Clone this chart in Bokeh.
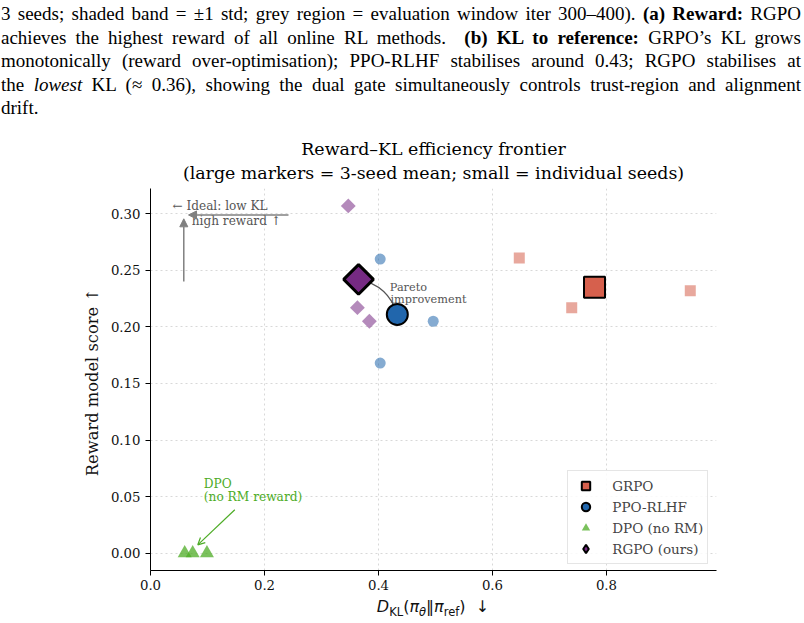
import numpy as np
from bokeh.plotting import figure
from bokeh.models import (Range1d, FixedTicker, PrintfTickFormatter, Label, Arrow,
                          NormalHead, OpenHead, Legend, LegendItem, Div, Title)
from bokeh.layouts import column
from bokeh.embed import file_html
from bokeh.resources import INLINE

# ---------------- data ----------------
methods = ["GRPO", "PPO-RLHF", "DPO (no RM)", "RGPO (ours)"]

grpo_seed_kl = [0.647, 0.739, 0.947]
grpo_seed_reward = [0.261, 0.217, 0.232]
grpo_mean_kl = [0.779]
grpo_mean_reward = [0.235]

ppo_seed_kl = [0.403, 0.496, 0.403]
ppo_seed_reward = [0.260, 0.205, 0.168]
ppo_mean_kl = [0.433]
ppo_mean_reward = [0.211]

dpo_seed_kl = [0.060, 0.074, 0.099]
dpo_seed_reward = [0.0, 0.0, 0.0]

rgpo_seed_kl = [0.347, 0.363, 0.384]
rgpo_seed_reward = [0.307, 0.217, 0.205]
rgpo_mean_kl = [0.365]
rgpo_mean_reward = [0.242]

x_ticks = [0.0, 0.2, 0.4, 0.6, 0.8]
y_ticks = [0.00, 0.05, 0.10, 0.15, 0.20, 0.25, 0.30]

GRPO_C = "#d6604d"
PPO_C = "#2166ac"
DPO_C = "#4dac26"
RGPO_C = "#762a83"
SERIF = "DejaVu Serif"
SANS = "DejaVu Sans"

# ---------------- caption ----------------
just = "white-space:nowrap;text-align:justify;text-align-last:justify;"
caption = (
    "<div style=\"font-family:'Liberation Serif';font-size:19px;line-height:23.5px;"
    "color:#000;width:801px;padding:2px 0 0 1px;\">"
    f"<div style='{just}'>3 seeds; shaded band = ±1 std; grey region = evaluation window iter 300–400). "
    "<b>(a) Reward:</b> RGPO</div>"
    f"<div style='{just}'>achieves the highest reward of all online RL methods.&nbsp; "
    "<b>(b) KL to reference:</b> GRPO’s KL grows</div>"
    f"<div style='{just}'>monotonically (reward over-optimisation); PPO-RLHF stabilises around 0.43; "
    "RGPO stabilises at</div>"
    f"<div style='{just}'>the <i>lowest</i> KL (≈ 0.36), showing the dual gate simultaneously controls "
    "trust-region and alignment</div>"
    "<div style='white-space:nowrap;'>drift.</div></div>"
)
div = Div(text=caption, width=804, height=120, margin=(0, 0, 0, 0))

# ---------------- figure ----------------
x0, x1 = 0.0, 0.993
y0, y1 = -0.0154, 0.3224
W, H = 804, 476
BL, BR, BT, BB = 150, 88, 68, 26
p = figure(width=W, height=H, x_range=Range1d(x0, x1), y_range=Range1d(y0, y1),
           output_backend="svg", toolbar_location=None,
           min_border_left=BL, min_border_right=BR, min_border_top=BT, min_border_bottom=BB)
p.outline_line_color = None
p.background_fill_color = "white"

# two-line title (two stacked Title objects, each centred on the axes)
p.title = Title(text="Reward–KL efficiency frontier", align="center", text_font=SERIF,
                text_font_size="17.4px", text_font_style="normal", text_color="black",
                standoff=-8)
p.add_layout(Title(text="(large markers = 3-seed mean; small = individual seeds)", align="center",
                   text_font=SERIF, text_font_size="17.4px", text_font_style="normal",
                   text_color="black", text_line_height=0.8, standoff=12), "above")

for ax in (p.xaxis[0], p.yaxis[0]):
    ax.axis_line_color = "black"
    ax.axis_line_width = 1
    ax.major_tick_line_color = "black"
    ax.major_tick_out = 5
    ax.major_tick_in = 0
    ax.minor_tick_line_color = None
    ax.major_label_text_font = SERIF
    ax.major_label_text_font_size = "13.3px"
    ax.major_label_text_color = "#111111"

p.xaxis.ticker = FixedTicker(ticks=x_ticks)
p.xaxis.formatter = PrintfTickFormatter(format="%.1f")
p.xaxis.major_label_standoff = 4
p.yaxis.ticker = FixedTicker(ticks=y_ticks)
p.yaxis.formatter = PrintfTickFormatter(format="%.2f")
p.yaxis.major_label_standoff = 5
p.yaxis.axis_label = "Reward model score  ↑"
p.yaxis.axis_label_text_font = SERIF
p.yaxis.axis_label_text_font_size = "16.3px"
p.yaxis.axis_label_text_font_style = "normal"
p.yaxis.axis_label_text_color = "#111111"
p.yaxis.axis_label_standoff = 6

for g in (p.xgrid[0], p.ygrid[0]):
    g.grid_line_color = "#c8c8c8"
    g.grid_line_alpha = 0.7
    g.grid_line_dash = "2 3"
    g.grid_line_width = 1

# seeds
p.scatter(grpo_seed_kl, grpo_seed_reward, marker="square", size=11,
          fill_color=GRPO_C, fill_alpha=0.55, line_color=None)
p.scatter(ppo_seed_kl, ppo_seed_reward, marker="circle", size=11,
          fill_color=PPO_C, fill_alpha=0.55, line_color=None)
dpo_r = p.scatter(dpo_seed_kl, dpo_seed_reward, marker="triangle", size=14,
                  fill_color=DPO_C, fill_alpha=0.75, line_color=None)
p.scatter(rgpo_seed_kl, rgpo_seed_reward, marker="square", angle=np.pi / 4, size=10.5,
          fill_color=RGPO_C, fill_alpha=0.55, line_color=None)

# Pareto improvement curve (arc from PPO mean to RGPO mean)
sx = (W - BL - BR) / (x1 - x0)
sy = (H - BT - BB) / (y1 - y0)
xa, ya = ppo_mean_kl[0], ppo_mean_reward[0]
xb, yb = rgpo_mean_kl[0], rgpo_mean_reward[0]
dxp, dyp = (xb - xa) * sx, (yb - ya) * sy
rad = 0.3
cx = (xa + xb) / 2 + rad * dyp / sx
cy = (ya + yb) / 2 - rad * dxp / sy
p.quadratic(x0=[xa], y0=[ya], x1=[xb], y1=[yb], cx=[cx], cy=[cy],
            line_color="#555555", line_width=1.3)

# means
grpo_r = p.scatter(grpo_mean_kl, grpo_mean_reward, marker="square", size=21,
                   fill_color=GRPO_C, line_color="black", line_width=2)
ppo_r = p.scatter(ppo_mean_kl, ppo_mean_reward, marker="circle", size=21,
                  fill_color=PPO_C, line_color="black", line_width=2)
rgpo_r = p.scatter(rgpo_mean_kl, rgpo_mean_reward, marker="square", angle=np.pi / 4, size=21,
                   fill_color=RGPO_C, line_color="black", line_width=3)
# legend swatch for the RGPO mean (diamond shape, zero size in the plot itself)
rgpo_leg = p.scatter(rgpo_mean_kl, rgpo_mean_reward, marker="diamond", size=0,
                     fill_color=RGPO_C, line_color="black", line_width=2)

# annotations
GREY_T = "#555555"
GREY_A = "#808080"
p.add_layout(Label(x=0.0386, y=0.3072, text="← Ideal: low KL", text_font=SERIF,
                   text_font_size="12.1px", text_color=GREY_T, text_baseline="middle"))
p.add_layout(Label(x=0.0725, y=0.2938, text="high reward  ↑", text_font=SERIF,
                   text_font_size="12.1px", text_color=GREY_T, text_baseline="middle"))
p.add_layout(Arrow(end=NormalHead(size=8, fill_color=GREY_A, line_color=GREY_A),
                   x_start=0.2421, y_start=0.2990, x_end=0.0667, y_end=0.2990,
                   line_color=GREY_A, line_width=1.5))
p.add_layout(Arrow(end=NormalHead(size=8, fill_color=GREY_A, line_color=GREY_A),
                   x_start=0.0584, y_start=0.2402, x_end=0.0584, y_end=0.2956,
                   line_color=GREY_A, line_width=1.5))

p.add_layout(Label(x=0.4198, y=0.2352, text="Pareto", text_font=SERIF,
                   text_font_size="11.3px", text_color=GREY_T, text_baseline="middle"))
p.add_layout(Label(x=0.4210, y=0.2240, text="improvement", text_font=SERIF,
                   text_font_size="11.3px", text_color=GREY_T, text_baseline="middle"))

p.add_layout(Label(x=0.0935, y=0.0613, text="DPO", text_font=SERIF,
                   text_font_size="12.2px", text_color=DPO_C, text_baseline="middle"))
p.add_layout(Label(x=0.0935, y=0.0495, text="(no RM reward)", text_font=SERIF,
                   text_font_size="12.2px", text_color=DPO_C, text_baseline="middle"))
p.add_layout(Arrow(end=OpenHead(size=7, line_color=DPO_C, line_width=1.2),
                   x_start=0.1479, y_start=0.0383, x_end=0.0830, y_end=0.0073,
                   line_color=DPO_C, line_width=1.2))

# legend
legend = Legend(items=[LegendItem(label=methods[0], renderers=[grpo_r]),
                       LegendItem(label=methods[1], renderers=[ppo_r]),
                       LegendItem(label=methods[2], renderers=[dpo_r]),
                       LegendItem(label=methods[3], renderers=[rgpo_leg])],
                location=(417.3, 6), glyph_width=27, glyph_height=21, spacing=0,
                padding=4, margin=0, label_standoff=13, label_height=21,
                label_text_font=SERIF, label_text_font_size="13.5px",
                border_line_color="#cccccc", border_line_width=1,
                background_fill_color="white", background_fill_alpha=0.85)
p.add_layout(legend)

# x-axis label (math-style, as real text)
xlabel_html = (
    "<div style=\"margin-left:150px;width:566px;text-align:center;white-space:nowrap;"
    "font-family:'DejaVu Sans';font-size:16px;line-height:21px;color:#111;padding-top:0px;\">"
    "<i>D</i><span style='font-size:11.5px;vertical-align:-4px;'>KL</span>"
    "(<i>π</i><span style='font-size:11.5px;vertical-align:-4px;'><i>θ</i></span>"
    "‖<i>π</i><span style='font-size:11.5px;vertical-align:-4px;'>ref</span>)&nbsp;&nbsp;↓"
    "</div>"
)
xlabel_div = Div(text=xlabel_html, width=804, height=27, margin=(0, 0, 0, 0))

layout = column(div, p, xlabel_div, spacing=0)
open("out.html", "w").write(file_html(layout, INLINE))
